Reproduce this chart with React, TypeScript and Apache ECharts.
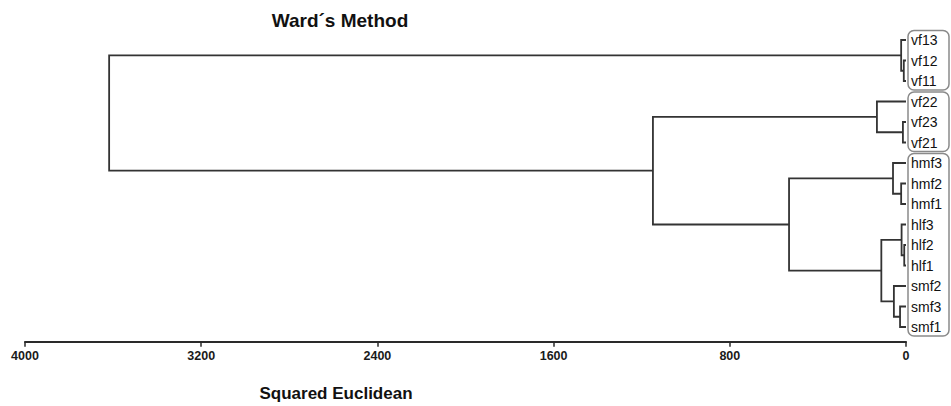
import React, { useEffect, useRef } from "react";
import * as echarts from "echarts";

// Leaves, top to bottom
const leaves = ["vf13", "vf12", "vf11", "vf22", "vf23", "vf21", "hmf3", "hmf2", "hmf1", "hlf3", "hlf2", "hlf1", "smf2", "smf3", "smf1"];
// Merge steps: childA + childB at height (cluster created at step i is "c" + (i+1))
const mergeA = ["vf12", "vf13", "vf23", "vf22", "hmf2", "hmf3", "hlf2", "hlf3", "smf3", "smf2", "c8", "c6", "c4", "c2"];
const mergeB = ["vf11", "c1", "vf21", "c3", "hmf1", "c5", "hlf1", "c7", "smf1", "c9", "c10", "c11", "c12", "c13"];
const mergeHeights = [10, 22, 14, 132, 22, 59, 8, 20, 27, 55, 112, 531, 1149, 3618];
// Boxed label groups
const groupStart = ["vf13", "vf22", "hmf3"];
const groupEnd = ["vf11", "vf21", "smf1"];
const xTickMax = 4000;
const xTickStep = 800;

const FONT = "'Liberation Sans', Arial, Helvetica, sans-serif";

function buildLinks() {
  const pos: Record<string, number> = {};
  const hgt: Record<string, number> = {};
  leaves.forEach((l, i) => {
    pos[l] = i;
    hgt[l] = 0;
  });
  const links: number[][] = [];
  mergeA.forEach((a, i) => {
    const b = mergeB[i];
    const h = mergeHeights[i];
    const id = "c" + (i + 1);
    links.push([h, pos[a], pos[b], hgt[a], hgt[b]]);
    pos[id] = (pos[a] + pos[b]) / 2;
    hgt[id] = h;
  });
  return links;
}

export default function App() {
  const ref = useRef<HTMLDivElement>(null);
  useEffect(() => {
    if (!ref.current) return;
    const chart = echarts.init(ref.current, null, { renderer: "svg" });
    const links = buildLinks();
    const idx: Record<string, number> = {};
    leaves.forEach((l, i) => (idx[l] = i));
    const boxes = groupStart.map((s, i) => [0, idx[s], idx[groupEnd[i]]]);

    chart.setOption({
      animation: false,
      backgroundColor: "#ffffff",
      grid: { left: 25, right: 45, top: 29.75, height: 307.5 },
      xAxis: {
        type: "value",
        position: "bottom",
        inverse: true,
        min: 0,
        max: xTickMax,
        interval: xTickStep,
        offset: 4.5,
        splitLine: { show: false },
        axisLine: { show: true, onZero: false, lineStyle: { color: "#2a2a2a", width: 2 } },
        axisTick: { show: true, length: 5, lineStyle: { color: "#2a2a2a", width: 1.5 } },
        axisLabel: {
          fontFamily: FONT,
          fontWeight: "bold",
          fontSize: 12.5,
          color: "#1a1a1a",
          margin: 8,
          formatter: (v: number) => String(v),
        },
      },
      yAxis: [
        {
          type: "value",
          inverse: true,
          min: -0.5,
          max: leaves.length - 0.5,
          show: false,
        },
        {
          type: "category",
          data: leaves,
          inverse: true,
          position: "right",
          axisLine: { show: false },
          axisTick: { show: false },
          splitLine: { show: false },
          axisLabel: { fontFamily: FONT, fontSize: 14, color: "#111", margin: 5, interval: 0 },
        },
      ],
      graphic: [
        {
          type: "text",
          x: 340,
          y: 20,
          style: { text: "Ward´s Method", font: `bold 19px ${FONT}`, fill: "#111", align: "center", verticalAlign: "middle" },
        },
        {
          type: "text",
          x: 336,
          y: 393,
          style: { text: "Squared Euclidean", font: `bold 17px ${FONT}`, fill: "#111", align: "center", verticalAlign: "middle" },
        },
      ],
      series: [
        {
          type: "custom",
          xAxisIndex: 0,
          yAxisIndex: 0,
          data: links,
          encode: { x: [0, 3, 4], y: [1, 2] },
          clip: false,
          renderItem: (params: any, api: any) => {
            const h = api.value(0);
            const ya = api.value(1);
            const yb = api.value(2);
            const ha = api.value(3);
            const hb = api.value(4);
            const p1 = api.coord([ha, ya]);
            const p2 = api.coord([h, ya]);
            const p3 = api.coord([h, yb]);
            const p4 = api.coord([hb, yb]);
            return {
              type: "polyline",
              shape: { points: [p1, p2, p3, p4] },
              style: { stroke: "#333", lineWidth: 1.8, fill: null },
            };
          },
        },
        {
          type: "custom",
          xAxisIndex: 0,
          yAxisIndex: 0,
          data: boxes,
          encode: { x: 0, y: [1, 2] },
          clip: false,
          renderItem: (params: any, api: any) => {
            const top = api.coord([api.value(0), api.value(1)]);
            const bot = api.coord([api.value(0), api.value(2)]);
            const x = top[0] + 2;
            const y = top[1] - 9.5;
            const w = api.getWidth() - 2 - x;
            const hh = bot[1] + 9 - y;
            return {
              type: "rect",
              shape: { x, y, width: w, height: hh, r: 6 },
              style: { stroke: "#8a8a8a", lineWidth: 1.5, fill: null },
            };
          },
        },
      ],
    });
    return () => chart.dispose();
  }, []);
  return (
    <div
      ref={ref}
      style={{ position: "absolute", left: 0, top: 0, width: 951, height: 406, background: "#fff" }}
    />
  );
}
